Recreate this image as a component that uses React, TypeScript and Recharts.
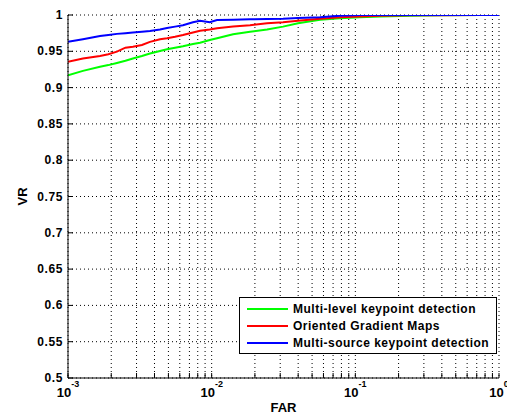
import React from 'react';
import { LineChart, Line, XAxis, YAxis, CartesianGrid, Legend } from 'recharts';

const FAR = [
  0.001, 0.00127, 0.00167, 0.00191, 0.00219, 0.00251, 0.00283, 0.00327, 0.00372, 0.00437,
  0.00489, 0.00556, 0.00631, 0.00741, 0.0083, 0.0097, 0.0109, 0.0141, 0.0185, 0.0243,
  0.0314, 0.0399, 0.0568, 0.0782, 0.1076, 0.1486, 0.24, 0.389, 0.738, 1,
];
const MULTI_LEVEL = [
  0.917, 0.923, 0.9288, 0.931, 0.934, 0.937, 0.94, 0.9435, 0.947, 0.9505,
  0.9528, 0.955, 0.957, 0.96, 0.9618, 0.9655, 0.968, 0.9734, 0.977, 0.98,
  0.984, 0.9886, 0.9935, 0.9955, 0.997, 0.998, 0.999, 0.9995, 1, 1,
];
const ORIENTED = [
  0.9357, 0.94, 0.9435, 0.946, 0.9495, 0.955, 0.9563, 0.9587, 0.963, 0.9665,
  0.968, 0.97, 0.9725, 0.976, 0.9784, 0.98, 0.9817, 0.984, 0.986, 0.9886,
  0.99, 0.992, 0.995, 0.997, 0.998, 0.999, 0.9995, 0.9995, 1, 1,
];
const MULTI_SOURCE = [
  0.963, 0.9665, 0.971, 0.9725, 0.974, 0.975, 0.976, 0.977, 0.978, 0.98,
  0.982, 0.984, 0.986, 0.99, 0.992, 0.99, 0.993, 0.9935, 0.994, 0.9945,
  0.995, 0.996, 0.997, 0.999, 1, 1, 1, 1, 1, 1,
];
const X_TICKS = [
  0.001, 0.002, 0.003, 0.004, 0.005, 0.006, 0.007, 0.008, 0.009,
  0.01, 0.02, 0.03, 0.04, 0.05, 0.06, 0.07, 0.08, 0.09,
  0.1, 0.2, 0.3, 0.4, 0.5, 0.6, 0.7, 0.8, 0.9, 1,
];
const DECADE_EXPONENTS: Record<string, string> = { '0.001': '-3', '0.01': '-2', '0.1': '-1', '1': '0' };
const Y_TICKS = [0.5, 0.55, 0.6, 0.65, 0.7, 0.75, 0.8, 0.85, 0.9, 0.95, 1];

const SERIES = [
  { key: 'ml', name: 'Multi-level keypoint detection', color: '#00ff00' },
  { key: 'og', name: 'Oriented Gradient Maps', color: '#ff0000' },
  { key: 'ms', name: 'Multi-source keypoint detection', color: '#0000ff' },
];

const data = FAR.map((f, i) => ({ far: f, ml: MULTI_LEVEL[i], og: ORIENTED[i], ms: MULTI_SOURCE[i] }));

const FONT = '"Liberation Sans", Arial, sans-serif';
const TICK_LEN = 5;

const BottomTick = (props: any) => {
  const { x, y, payload } = props;
  const exp = DECADE_EXPONENTS[String(payload.value)];
  return (
    <g>
      <line x1={x} x2={x} y1={y} y2={y - TICK_LEN} stroke="#000" />
      {exp !== undefined && (
        <text x={x} y={y + 19} textAnchor="middle" fontFamily={FONT} fontWeight="bold" fill="#000">
          <tspan fontSize={13}>10</tspan>
          <tspan fontSize={9} dy={-10}>{exp}</tspan>
        </text>
      )}
    </g>
  );
};

const TopTick = (props: any) => {
  const { x, y } = props;
  return <line x1={x} x2={x} y1={y} y2={y + TICK_LEN} stroke="#000" />;
};

const LeftTick = (props: any) => {
  const { x, y, payload } = props;
  return (
    <g>
      <line x1={x} x2={x + TICK_LEN} y1={y} y2={y} stroke="#000" />
      <text x={x - 5} y={y} dy={4} textAnchor="end" fontFamily={FONT} fontWeight="bold" fontSize={12} letterSpacing={0.6} fill="#000">
        {String(payload.value)}
      </text>
    </g>
  );
};

const RightTick = (props: any) => {
  const { x, y } = props;
  return <line x1={x} x2={x - TICK_LEN} y1={y} y2={y} stroke="#000" />;
};

const LegendBox = () => (
  <div
    style={{
      width: 258,
      height: 57,
      boxSizing: 'border-box',
      border: '1px solid #000',
      background: '#fff',
      padding: '2px 0 0 7px',
      fontFamily: FONT,
      fontWeight: 'bold',
      fontSize: 12,
      letterSpacing: 0.5,
      color: '#000',
    }}
  >
    {SERIES.map((s) => (
      <div key={s.key} style={{ display: 'flex', alignItems: 'center', height: 17 }}>
        <div style={{ width: 41, height: 2, background: s.color, marginRight: 5 }} />
        <span style={{ whiteSpace: 'nowrap' }}>{s.name}</span>
      </div>
    ))}
  </div>
);

export default function App() {
  return (
    <div style={{ width: 507, height: 410, background: '#fff' }}>
      <LineChart width={507} height={410} data={data} margin={{ top: 7, right: 16, bottom: 0, left: 0 }}>
        <CartesianGrid stroke="#000" strokeDasharray="1 3" />
        <XAxis
          dataKey="far"
          type="number"
          scale="log"
          domain={[0.001, 1]}
          ticks={X_TICKS}
          interval={0}
          allowDataOverflow
          height={40}
          tickSize={0}
          tickMargin={0}
          tickLine={false}
          axisLine={{ stroke: '#000' }}
          tick={<BottomTick />}
          label={(p: any) => {
            const vb = p.viewBox || {};
            return (
              <text x={vb.x + vb.width / 2} y={vb.y + 34} textAnchor="middle" fontFamily={FONT} fontWeight="bold" fontSize={13} fill="#000">
                FAR
              </text>
            );
          }}
        />
        <XAxis
          xAxisId="top"
          orientation="top"
          dataKey="far"
          type="number"
          scale="log"
          domain={[0.001, 1]}
          ticks={X_TICKS}
          interval={0}
          allowDataOverflow
          height={0}
          tickSize={0}
          tickMargin={0}
          tickLine={false}
          axisLine={{ stroke: '#000' }}
          tick={<TopTick />}
        />
        <YAxis
          type="number"
          domain={[0.5, 1]}
          ticks={Y_TICKS}
          interval={0}
          allowDataOverflow
          width={60}
          tickSize={0}
          tickMargin={0}
          tickLine={false}
          axisLine={{ stroke: '#000' }}
          tick={<LeftTick />}
          label={(p: any) => {
            const vb = p.viewBox || {};
            const cx = 14;
            const cy = vb.y + vb.height / 2;
            return (
              <text x={cx} y={cy} transform={`rotate(-90 ${cx} ${cy})`} textAnchor="middle" dominantBaseline="central" fontFamily={FONT} fontWeight="bold" fontSize={13} fill="#000">
                VR
              </text>
            );
          }}
        />
        <YAxis
          yAxisId="right"
          orientation="right"
          type="number"
          domain={[0.5, 1]}
          ticks={Y_TICKS}
          interval={0}
          allowDataOverflow
          width={0}
          tickSize={0}
          tickMargin={0}
          tickLine={false}
          axisLine={{ stroke: '#000' }}
          tick={<RightTick />}
        />
        {SERIES.map((s) => (
          <Line
            key={s.key}
            dataKey={s.key}
            name={s.name}
            type="linear"
            stroke={s.color}
            strokeWidth={2}
            dot={false}
            activeDot={false}
            isAnimationActive={false}
          />
        ))}
        <Legend
          layout="vertical"
          align="center"
          verticalAlign="middle"
          content={<LegendBox />}
          wrapperStyle={{ position: 'absolute', left: 231, top: 289, width: 258, height: 57 }}
        />
      </LineChart>
    </div>
  );
}
